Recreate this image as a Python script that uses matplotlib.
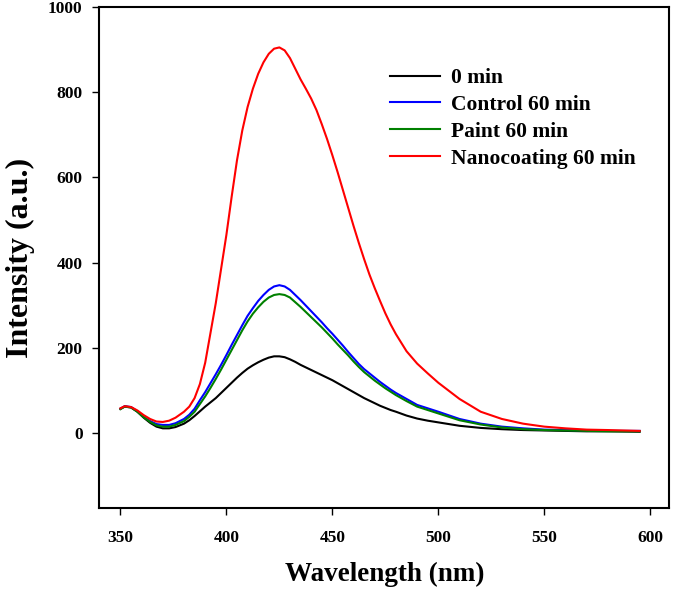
import matplotlib
matplotlib.use("Agg")
import matplotlib.pyplot as plt

plt.rcParams['font.family'] = ['Liberation Serif', 'DejaVu Serif']
plt.rcParams['font.weight'] = 'bold'

# wavelength (nm)
wavelength = [350, 352, 355, 358, 361, 364, 367, 370, 373, 376,
              380, 382.5, 385, 387.5, 390, 392.5, 395, 397.5, 400, 402.5,
              405, 407.5, 410, 412.5, 415, 417.5, 420, 422.5, 425, 427.5,
              430, 432.5, 435, 437.5, 440, 442.5, 445, 447.5, 450, 452.5,
              455, 457.5, 460, 462.5, 465, 467.5, 470, 472.5, 475, 477.5,
              480, 485, 490, 495, 500, 510, 520, 530, 540, 550,
              560, 570, 580, 595]

min0 = [57, 62, 60, 50, 36, 24, 15, 11, 11, 14,
        22, 30, 40, 51, 62, 72, 82, 94, 106, 118,
        130, 141, 151, 159, 166, 172, 177, 180, 180, 178,
        173, 167, 160, 154, 148, 142, 136, 130, 124, 117,
        110, 103, 96, 89, 82, 76, 70, 64, 59, 54,
        50, 41, 34, 29, 25, 17, 12, 9, 7, 6,
        5, 4, 4, 3]

control60 = [57, 63, 61, 51, 38, 28, 21, 19, 19, 23,
             33, 43, 57, 77, 96, 117, 138, 160, 183, 207,
             230, 253, 275, 293, 310, 324, 336, 344, 347, 344,
             336, 324, 312, 299, 286, 273, 260, 246, 233, 219,
             205, 190, 176, 162, 150, 140, 130, 120, 111, 102,
             94, 80, 66, 58, 50, 33, 22, 15, 11, 8,
             7, 6, 5, 5]

paint60 = [56, 62, 60, 50, 37, 26, 18, 15, 15, 19,
           28, 38, 50, 68, 86, 106, 127, 149, 172, 195,
           218, 241, 262, 280, 295, 308, 318, 324, 326, 324,
           318, 307, 296, 284, 272, 260, 248, 235, 222, 208,
           195, 182, 168, 155, 143, 133, 123, 114, 105, 97,
           89, 75, 62, 54, 46, 30, 20, 13, 9, 7,
           6, 5, 4, 4]

nano60 = [58, 63, 61, 53, 42, 33, 27, 26, 29, 36,
          50, 62, 82, 115, 165, 235, 305, 385, 465, 555,
          640, 710, 765, 808, 843, 870, 890, 902, 905, 898,
          880, 855, 830, 808, 785, 758, 725, 690, 652, 612,
          570, 528, 486, 446, 408, 372, 340, 310, 281, 255,
          232, 192, 163, 140, 118, 80, 50, 33, 22, 15,
          11, 8, 7, 5]

series = [("0 min", min0, "black"),
          ("Control 60 min", control60, "blue"),
          ("Paint 60 min", paint60, "green"),
          ("Nanocoating 60 min", nano60, "red")]

fig = plt.figure(figsize=(6.75, 5.93), dpi=100)
ax = fig.add_axes([0.147, 0.1433, 0.8446, 0.845])

for name, vals, col in series:
    ax.plot(wavelength, vals, color=col, lw=1.5, label=name)

ax.set_xlim(340, 609)
ax.set_ylim(-176, 1000)
ax.set_xticks([350, 400, 450, 500, 550, 600])
ax.set_yticks([0, 200, 400, 600, 800, 1000])

for s in ax.spines.values():
    s.set_linewidth(1.5)
ax.tick_params(direction='out', length=5, width=1, labelsize=12.5)
ax.tick_params(axis='y', pad=7)
ax.tick_params(axis='x', pad=11)

ax.set_xlabel("Wavelength (nm)", fontsize=19.5, fontweight='bold', labelpad=11)
ax.set_ylabel("Intensity (a.u.)", fontsize=23, fontweight='bold', labelpad=9)

ax.legend(loc='upper left', bbox_to_anchor=(390 / 675, 1 - 68 / 593),
          bbox_transform=fig.transFigure, frameon=False,
          borderpad=0, borderaxespad=0, handlelength=2.3, handletextpad=0.55,
          labelspacing=0.32, prop={'weight': 'bold', 'size': 15.5})

fig.savefig("out.png", dpi=100)
